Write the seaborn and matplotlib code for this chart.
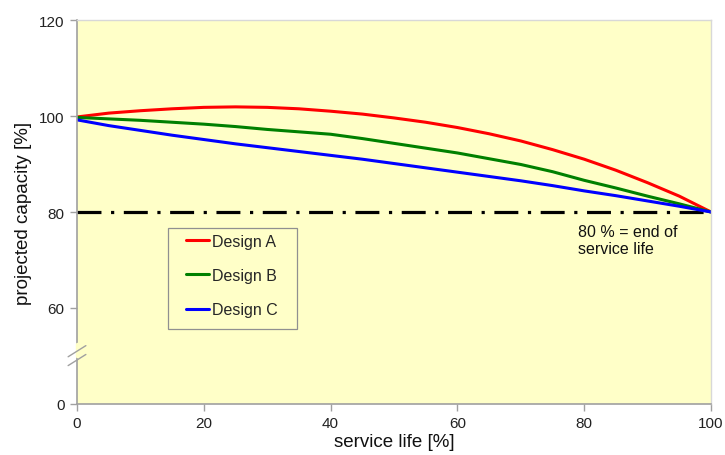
import matplotlib
matplotlib.use("Agg")
import matplotlib.pyplot as plt
from matplotlib.patches import Rectangle
import seaborn as sns
import pandas as pd

# ---- data ----
service_life = [0, 5, 10, 15, 20, 25, 30, 35, 40, 45, 50,
                55, 60, 65, 70, 75, 80, 85, 90, 95, 100]
design_a = [99.8, 100.6, 101.1, 101.5, 101.8, 101.9, 101.8, 101.5, 101.0, 100.4, 99.6,
            98.7, 97.6, 96.3, 94.8, 93.0, 91.0, 88.7, 86.1, 83.3, 80.0]
design_b = [99.7, 99.4, 99.1, 98.7, 98.3, 97.8, 97.2, 96.7, 96.2, 95.3, 94.3,
            93.3, 92.3, 91.1, 89.9, 88.4, 86.6, 85.0, 83.3, 81.7, 80.0]
design_c = [99.2, 98.0, 97.0, 96.0, 95.1, 94.2, 93.4, 92.6, 91.8, 91.0, 90.1,
            89.2, 88.3, 87.4, 86.5, 85.5, 84.4, 83.4, 82.3, 81.2, 80.0]
series_names = ["Design A", "Design B", "Design C"]
series_colors = ["#FF0000", "#008000", "#0000FF"]

end_of_life = 80
x_ticks = [0, 20, 40, 60, 80, 100]
# broken y axis: the "0" label sits where 40 would be
y_tick_pos = [40, 60, 80, 100, 120]
y_tick_labels = ["0", "60", "80", "100", "120"]

df = pd.concat([
    pd.DataFrame({"service life": service_life, "capacity": vals, "design": name})
    for name, vals in zip(series_names, [design_a, design_b, design_c])
])

sns.set_theme(style="white")
plt.rcParams["font.family"] = ["Liberation Sans", "DejaVu Sans"]

bg = "#FFFFC8"
fig = plt.figure(figsize=(7.25, 4.56), dpi=100)
ax = fig.add_axes([77 / 725, 1 - 405 / 456, 634 / 725, 384 / 456])
ax.set_facecolor(bg)

sns.lineplot(data=df, x="service life", y="capacity", hue="design",
             palette=dict(zip(series_names, series_colors)), linewidth=2.2,
             ax=ax, legend=False)
for ln in ax.lines:
    ln.set_solid_joinstyle("round")

ax.axhline(end_of_life, color="black", linewidth=2.3,
           linestyle=(0, (7.5, 3.0, 1.0, 3.0)), zorder=1)

ax.set_xlim(0, 100)
ax.set_ylim(40, 120)
ax.set_xticks(x_ticks)
ax.set_xticklabels([str(t) for t in x_ticks], fontsize=11, color="#222222")
ax.set_yticks(y_tick_pos)
ax.set_yticklabels(y_tick_labels, fontsize=11, color="#222222")
ax.tick_params(axis="both", direction="out", length=5, width=1, color="#A0A0A0",
               bottom=True, left=True, pad=4)
for s in ["left", "bottom"]:
    ax.spines[s].set_color("#A0A0A0")
    ax.spines[s].set_linewidth(1.2)
for s in ["top", "right"]:
    ax.spines[s].set_color("#D8D8D8")
    ax.spines[s].set_linewidth(1.0)

ax.set_xlabel("service life [%]", fontsize=13.5, color="#111111", labelpad=2)
ax.set_ylabel("projected capacity [%]", fontsize=13.5, color="#111111", labelpad=5)

# axis break marks
bx = [-0.014, 0.014]
ax.plot([0, 0], [0.125, 0.155], transform=ax.transAxes, color=bg,
        linewidth=2.5, clip_on=False, zorder=5)
ax.plot(bx, [0.123, 0.152], transform=ax.transAxes, color="#A0A0A0",
        linewidth=1.0, clip_on=False, zorder=6)
ax.plot(bx, [0.100, 0.129], transform=ax.transAxes, color="#A0A0A0",
        linewidth=1.0, clip_on=False, zorder=6)

ax.text(79.0, 77.5, "80 % = end of\nservice life", fontsize=11.5, color="#111111",
        ha="left", va="top", linespacing=1.2)

# legend frame drawn separately for exact padding
ax.add_patch(Rectangle((0.1435, 0.1953), 0.2035, 0.263, transform=ax.transAxes,
                       facecolor=bg, edgecolor="#909090", linewidth=0.9, zorder=4))
handles = [plt.Line2D([], [], color=c, linewidth=2.2) for c in series_colors]
leg = ax.legend(handles, series_names, loc="upper left",
                bbox_to_anchor=(0.172, 0.443), fontsize=11.5, frameon=False,
                handlelength=1.45, handletextpad=0.15, labelspacing=1.2,
                borderpad=0, borderaxespad=0)
leg.set_zorder(5)

fig.savefig("out.png", dpi=100, facecolor="white")
